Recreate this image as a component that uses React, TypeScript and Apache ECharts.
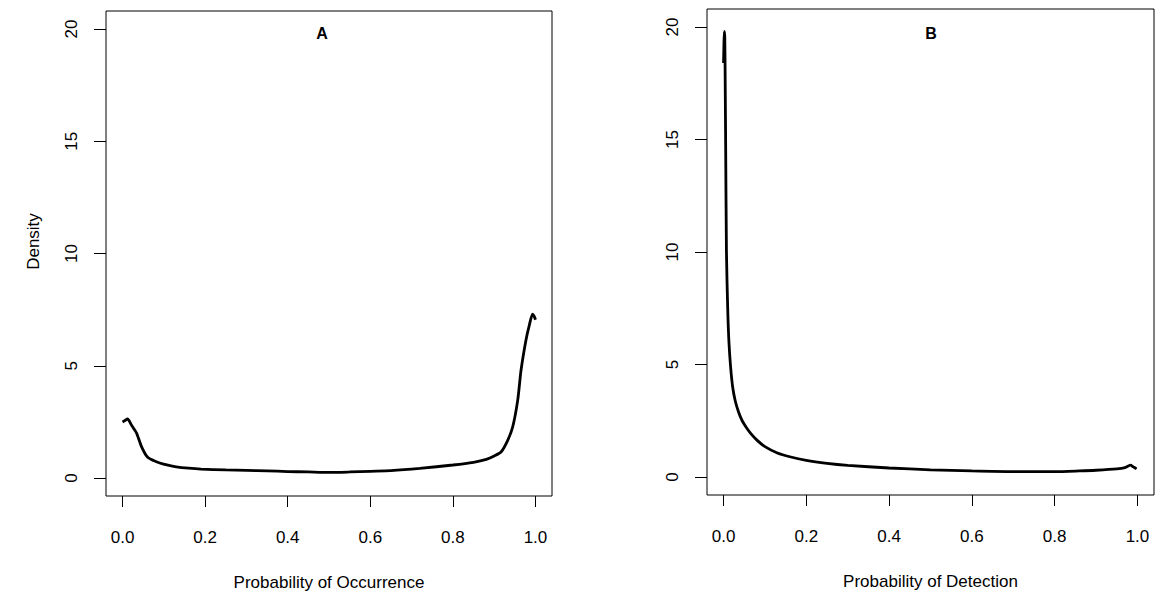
import React, { useEffect, useRef } from "react";
import * as echarts from "echarts";

// Panel A: Probability of Occurrence density
const occurrenceX = [0, 0.006, 0.012, 0.022, 0.034, 0.046, 0.06, 0.075, 0.09, 0.11, 0.13, 0.16, 0.19, 0.25, 0.3, 0.35, 0.4, 0.45, 0.5, 0.55, 0.6, 0.65, 0.72, 0.8, 0.85, 0.881, 0.9, 0.917, 0.933, 0.945, 0.957, 0.965, 0.977, 0.985, 0.993, 0.997, 1.0];
const occurrenceY = [2.5, 2.56, 2.63, 2.35, 2.0, 1.4, 0.94, 0.78, 0.67, 0.57, 0.5, 0.44, 0.4, 0.36, 0.34, 0.32, 0.29, 0.27, 0.25, 0.27, 0.3, 0.33, 0.43, 0.58, 0.7, 0.83, 0.98, 1.17, 1.69, 2.29, 3.47, 4.8, 6.15, 6.8, 7.3, 7.2, 7.05];

// Panel B: Probability of Detection density
const detectionX = [0, 0.001, 0.002, 0.003, 0.004, 0.005, 0.007, 0.01, 0.013, 0.017, 0.022, 0.028, 0.036, 0.045, 0.055, 0.065, 0.08, 0.1, 0.13, 0.16, 0.2, 0.25, 0.3, 0.4, 0.5, 0.6, 0.7, 0.8, 0.86, 0.9, 0.95, 0.97, 0.983, 0.99, 0.998];
const detectionY = [18.4, 19.3, 19.8, 19.5, 17.5, 15, 10, 7.5, 6, 4.9, 4.0, 3.4, 2.9, 2.5, 2.2, 1.95, 1.65, 1.35, 1.07, 0.9, 0.74, 0.61, 0.52, 0.4, 0.32, 0.27, 0.24, 0.24, 0.27, 0.3, 0.36, 0.42, 0.53, 0.45, 0.36];

const xTickValues = [0, 0.2, 0.4, 0.6, 0.8, 1.0];
const yTickValues = [0, 5, 10, 15, 20];
const panelLabels = ["A", "B"];
const xTitles = ["Probability of Occurrence", "Probability of Detection"];
const yTitle = "Density";

export default function App() {
  const ref = useRef<HTMLDivElement>(null);
  useEffect(() => {
    document.body.style.margin = "0";
    const chart = echarts.init(ref.current!, null, { renderer: "svg" });
    const font = "'Liberation Sans', Arial, Helvetica, sans-serif";
    const boxes = [
      { left: 106, top: 11, width: 446, height: 485 },
      { left: 707, top: 9, width: 447, height: 486 },
    ];
    const grid: any[] = [];
    const xAxis: any[] = [];
    const yAxis: any[] = [];
    const series: any[] = [];
    const datasets = [
      occurrenceX.map((x, i) => [x, occurrenceY[i]]),
      detectionX.map((x, i) => [x, detectionY[i]]),
    ];
    for (let p = 0; p < 2; p++) {
      grid.push({ ...boxes[p], show: true, borderColor: "#000", borderWidth: 1, backgroundColor: "transparent" });
      xAxis.push({
        type: "value",
        gridIndex: p,
        min: -0.04,
        max: 1.04,
        position: "bottom",
        axisLine: { show: false, onZero: false },
        axisTick: { show: true, length: 11, customValues: xTickValues, lineStyle: { color: "#000", width: 1 } },
        splitLine: { show: false },
        axisLabel: {
          customValues: xTickValues,
          margin: 33,
          fontSize: 17,
          color: "#000",
          fontFamily: font,
          formatter: (v: number) => v.toFixed(1),
        },
        name: xTitles[p],
        nameLocation: "middle",
        nameGap: 78,
        nameTextStyle: { fontSize: 17, color: "#000", fontFamily: font },
      });
      yAxis.push({
        type: "value",
        gridIndex: p,
        min: -0.8,
        max: 20.8,
        position: "left",
        axisLine: { show: false, onZero: false },
        axisTick: { show: true, length: 12, customValues: yTickValues, lineStyle: { color: "#000", width: 1 } },
        splitLine: { show: false },
        axisLabel: {
          customValues: yTickValues,
          margin: 26,
          rotate: 90,
          fontSize: 17,
          color: "#000",
          fontFamily: font,
        },
        name: p === 0 ? yTitle : "",
        nameLocation: "middle",
        nameGap: 64,
        nameTextStyle: { fontSize: 17, color: "#000", fontFamily: font, padding: [0, 0, 0, 24] },
      });
      series.push({
        type: "line",
        xAxisIndex: p,
        yAxisIndex: p,
        data: datasets[p],
        showSymbol: false,
        symbol: "none",
        smooth: 0.25,
        lineStyle: { color: "#000", width: 2.8 },
      });
    }
    chart.setOption({
      animation: false,
      backgroundColor: "#fff",
      grid,
      xAxis,
      yAxis,
      series,
      graphic: [
        { type: "text", x: 322, y: 33, style: { text: panelLabels[0], font: `bold 16px ${font}`, fill: "#000", align: "center", verticalAlign: "middle" } },
        { type: "text", x: 931, y: 33, style: { text: panelLabels[1], font: `bold 16px ${font}`, fill: "#000", align: "center", verticalAlign: "middle" } },
      ],
    });
    return () => chart.dispose();
  }, []);
  return <div ref={ref} style={{ width: 1161, height: 597 }} />;
}
